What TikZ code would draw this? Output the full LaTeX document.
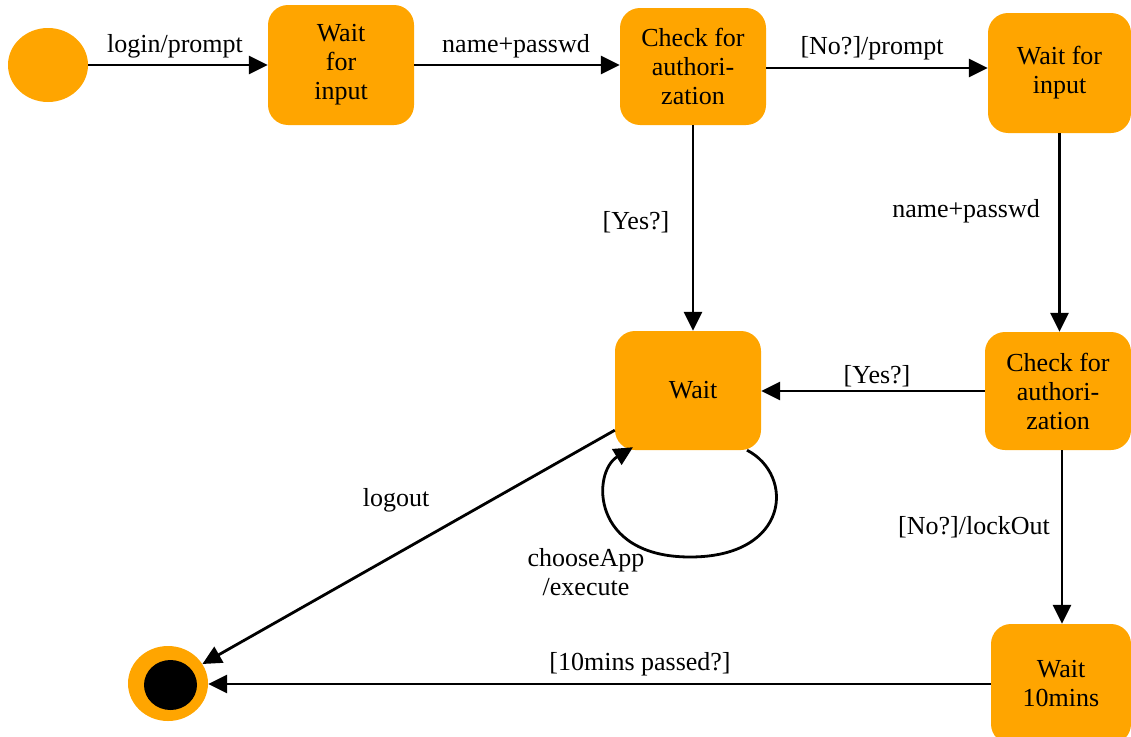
\documentclass[tikz,border=0pt]{standalone}
\usepackage{fontspec}
\setmainfont{Liberation Serif}
\usetikzlibrary{arrows.meta,shapes.geometric}
\definecolor{stateor}{RGB}{255,165,0}
\begin{document}
\begin{tikzpicture}[x=1pt,y=-1pt,
  txt/.style={font=\fontsize{26}{29}\selectfont},
  state/.style={txt,fill=stateor,draw=none,rounded corners=20pt,align=center,inner sep=0pt},
  lbl/.style={txt,inner sep=0pt,align=center},
  arr/.style={line width=2.8pt,-{Triangle[length=19pt,width=18pt]}}]
\useasboundingbox (0,0) rectangle (1131,736);
% states
\node[ellipse,fill=stateor,minimum width=80pt,minimum height=74pt,inner sep=0pt] (start) at (48,65) {};
\node[state,minimum width=146pt,minimum height=120pt] (wait1) at (341,65) {Wait\\for\\input};
\node[state,minimum width=146pt,minimum height=117pt] (check1) at (693,66.5) {Check for\\authori-\\zation};
\node[state,minimum width=143pt,minimum height=120pt] (wait2) at (1059.5,73) {Wait for\\input};
\node[state,minimum width=146pt,minimum height=119pt] (wait) at (688,390.5) {\hspace*{10pt}Wait};
\node[state,minimum width=146pt,minimum height=118pt] (check2) at (1058,391) {Check for\\authori-\\zation};
\node[state,minimum width=140pt,minimum height=120pt] (wait10) at (1061,684) {Wait\\10mins};
\node[ellipse,fill=stateor,minimum width=80pt,minimum height=75pt,inner sep=0pt] (end) at (168,683.5) {};
\node[ellipse,fill=black,minimum width=53pt,minimum height=50pt,inner sep=0pt] (endin) at (170.5,685) {};
% connectors
\draw[arr] (start) -- (start -| wait1.west);
\draw[arr] (wait1) -- (wait1 -| check1.west);
\draw[arr] ([yshift=-1.5pt]check1.east) -- ([yshift=-1.5pt]check1.east -| wait2.west);
\draw[arr] (check1) -- (check1 |- wait.north);
\draw[arr] (wait2) -- (wait2 |- check2.north);
\draw[arr] (check2) -- (check2 -| wait.east);
\draw[arr] ([xshift=4pt]check2.south) -- ([xshift=4pt]check2.south |- wait10.north);
\draw[arr] (wait10) -- (wait10 -| end.east);
\draw[arr] ([yshift=20pt]wait.south west) -- (end);
\coordinate (loopbot) at (690,557);
\draw[arr] ([xshift=59pt]wait.south) .. controls (795,475) and (790,557) .. (loopbot)
  .. controls (590,557) and (592,472) .. ([xshift=-55pt,yshift=3pt]wait.south);
% labels
\node[lbl] (l1) at (175,46) {login/prompt};
\node[lbl] (l2) at (516,46) {name+passwd};
\node[lbl] (l3) at (872,48) {[No?]/prompt};
\node[lbl] (l4) at (636,222) {[Yes?]};
\node[lbl] (l5) at (966,211) {name+passwd};
\node[lbl] (l6) at (877,376) {[Yes?]};
\node[lbl] (l7) at (974,527) {[No?]/lockOut};
\node[lbl] (l8) at (640,664) {[10mins passed?]};
\node[lbl] (l9) at (396,500) {logout};
\node[lbl] (l10) at (586,572) {chooseApp\\/execute};
\end{tikzpicture}
\end{document}
